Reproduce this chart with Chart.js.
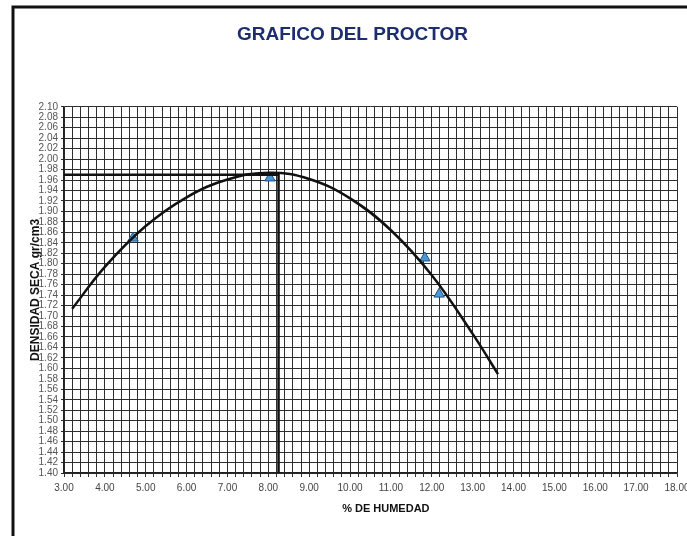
<!DOCTYPE html>
<html lang="es">
<head>
    <meta charset="UTF-8">
    <title>Grafico del Proctor</title>
    <script src="https://cdn.jsdelivr.net/npm/chart.js@4.4.1/dist/chart.umd.min.js"></script>
    <style>
        html, body { margin: 0; padding: 0; background: #fff; }
        #wrap { width: 687px; height: 536px; position: relative; }
    </style>
</head>
<body>
<div id="wrap"><canvas id="proctor" width="687" height="536"></canvas></div>
<script>
    // puntos del ensayo (% humedad, densidad seca)
    const humedad = [4.69, 8.04, 11.83, 12.18];
    const densidad = [1.849, 1.964, 1.811, 1.742];

    // curva de compactacion trazada sobre los puntos
    const curvaHumedad = [3.20, 4.00, 5.00, 6.00, 7.00, 8.04, 9.00, 10.00, 11.00, 12.00, 13.00, 13.62];
    const curvaDensidad = [1.714, 1.794, 1.872, 1.927, 1.961, 1.974, 1.962, 1.925, 1.864, 1.778, 1.666, 1.589];

    // lectura de optimo: densidad maxima y humedad optima
    const densidadMax = 1.97;
    const humedadOptima = 8.25;

    // ejes
    const ejeX = { min: 3, max: 18, paso: 0.2 };
    const ejeY = { min: 1.40, max: 2.10, paso: 0.02 };
    const tituloX = '% DE HUMEDAD';

    const toXY = (xs, ys) => xs.map((x, i) => ({ x: x, y: ys[i] }));

    // marco exterior de la hoja y titulo del eje x
    const marco = {
        id: 'marco',
        beforeDraw(chart) {
            const c = chart.ctx;
            c.save();
            c.fillStyle = '#fff';
            c.fillRect(0, 0, chart.width, chart.height);
            c.strokeStyle = '#111';
            c.lineWidth = 3;
            c.beginPath();
            c.moveTo(13, chart.height);
            c.lineTo(13, 7);
            c.lineTo(chart.width, 7);
            c.stroke();
            c.restore();
        },
        afterDraw(chart) {
            const c = chart.ctx;
            const a = chart.chartArea;
            c.save();
            c.fillStyle = '#111';
            c.font = 'bold 11px "Liberation Sans"';
            c.textAlign = 'center';
            c.textBaseline = 'middle';
            c.fillText(tituloX, a.left + (a.right - a.left) * 0.525, a.bottom + 36);
            c.restore();
        }
    };

    const ctx = document.getElementById('proctor').getContext('2d');
    new Chart(ctx, {
        type: 'scatter',
        data: {
            datasets: [
                {
                    label: 'lectura',
                    type: 'line',
                    data: [
                        { x: ejeX.min, y: densidadMax },
                        { x: humedadOptima, y: densidadMax },
                        { x: humedadOptima, y: ejeY.min }
                    ],
                    borderColor: '#111',
                    borderWidth: 2.5,
                    pointRadius: 0,
                    tension: 0,
                    fill: false
                },
                {
                    label: 'curva',
                    type: 'line',
                    data: toXY(curvaHumedad, curvaDensidad),
                    borderColor: '#111',
                    borderWidth: 2.5,
                    pointRadius: 0,
                    tension: 0.4,
                    fill: false
                },
                {
                    label: 'ensayo',
                    data: toXY(humedad, densidad),
                    pointStyle: 'triangle',
                    pointRadius: 6,
                    backgroundColor: '#4b9ad6',
                    borderColor: '#1d4f8a',
                    borderWidth: 1
                }
            ]
        },
        options: {
            responsive: false,
            animation: false,
            layout: { padding: { left: 28, right: 10, top: 0, bottom: 17 } },
            plugins: {
                legend: { display: false },
                tooltip: { enabled: false },
                title: {
                    display: true,
                    text: 'GRAFICO DEL PROCTOR',
                    color: '#1c2e6e',
                    font: { family: 'Liberation Sans', size: 19, weight: 'bold' },
                    padding: { top: 23, bottom: 61 }
                }
            },
            scales: {
                x: {
                    type: 'linear',
                    min: ejeX.min,
                    max: ejeX.max,
                    afterFit(s) { s.height = 46; s.paddingRight = 0; s.paddingLeft = 0; },
                    ticks: {
                        stepSize: ejeX.paso,
                        autoSkip: false,
                        maxRotation: 0,
                        padding: 5,
                        color: '#444',
                        font: { family: 'Liberation Sans', size: 10 },
                        callback: v => Math.abs(v - Math.round(v)) < 1e-6 ? v.toFixed(2) : ''
                    },
                    grid: { color: '#2e2e2e', lineWidth: 1, tickLength: 4 },
                    border: { color: '#222', width: 1.5 }
                },
                y: {
                    type: 'linear',
                    min: ejeY.min,
                    max: ejeY.max,
                    afterFit(s) { s.width = 36; },
                    ticks: {
                        stepSize: ejeY.paso,
                        autoSkip: false,
                        padding: 3,
                        color: '#555',
                        font: { family: 'Liberation Sans', size: 10 },
                        callback: v => v.toFixed(2)
                    },
                    grid: { color: '#2e2e2e', lineWidth: 1, tickLength: 3 },
                    border: { color: '#222', width: 1.5 },
                    title: {
                        display: true,
                        text: 'DENSIDAD SECA gr/cm3',
                        color: '#111',
                        padding: 0,
                        font: { family: 'Liberation Sans', size: 12, weight: 'bold' }
                    }
                }
            }
        },
        plugins: [marco]
    });
</script>
</body>
</html>
